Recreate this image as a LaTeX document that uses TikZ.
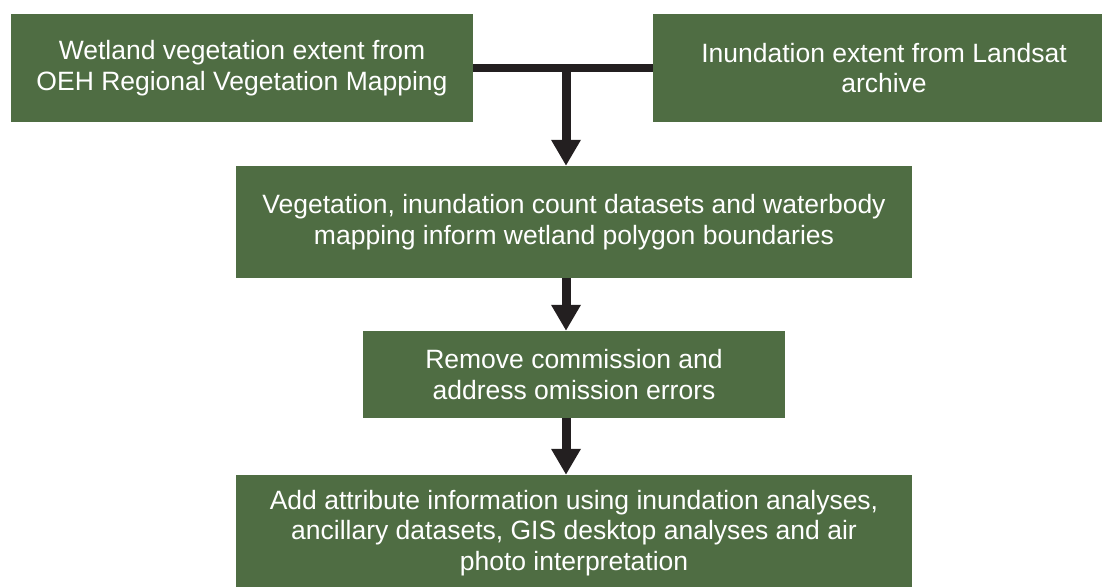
\documentclass[tikz,border=0pt]{standalone}
\usepackage{fontspec}
\setmainfont{Liberation Sans}
\usetikzlibrary{arrows.meta}
\definecolor{boxgreen}{RGB}{79,109,67}
\definecolor{arrowdark}{RGB}{35,31,32}
\begin{document}
\begin{tikzpicture}[x=1pt,y=-1pt,
  stepbox/.style={rectangle, fill=boxgreen, draw=none, inner sep=0pt,
    text=white, align=center, font=\fontsize{26.5}{30.5}\selectfont},
  flowarrow/.style={draw=arrowdark, line width=9pt,
    -{Triangle[length=26pt,width=28pt]}},
  joinline/.style={draw=arrowdark, line width=7.5pt}]
\useasboundingbox (0,0) rectangle (1102,586);
\clip (0,0) rectangle (1102,586);
\node[stepbox, minimum width=462pt, minimum height=108pt] (b1) at (242,68)
  {Wetland vegetation extent from\\OEH Regional Vegetation Mapping};
\node[stepbox, minimum width=462pt, minimum height=108pt] (b2) at (884,68)
  {Inundation extent from Landsat\\archive};
\node[stepbox, minimum width=676pt, minimum height=112pt] (b3) at (574,222)
  {Vegetation, inundation count datasets and waterbody\\mapping inform wetland polygon boundaries};
\node[stepbox, minimum width=422pt, minimum height=87pt] (b4) at (574,374.5)
  {Remove commission and\\address omission errors};
\node[stepbox, minimum width=676pt, minimum height=116pt] (b5) at (574,533)
  {Add attribute information using inundation analyses,\\ancillary datasets, GIS desktop analyses and air\\photo interpretation};
\draw[joinline] (b1.east) -- (b2.west);
\coordinate (j) at (566,68);
\coordinate (j2) at (566,278);
\coordinate (j3) at (566,418);
\draw[flowarrow] ([yshift=-3pt]j) -- (j |- b3.north);
\draw[flowarrow] (j2) -- (j2 |- b4.north);
\draw[flowarrow] (j3 |- b4.south) -- (j3 |- b5.north);
\end{tikzpicture}
\end{document}
